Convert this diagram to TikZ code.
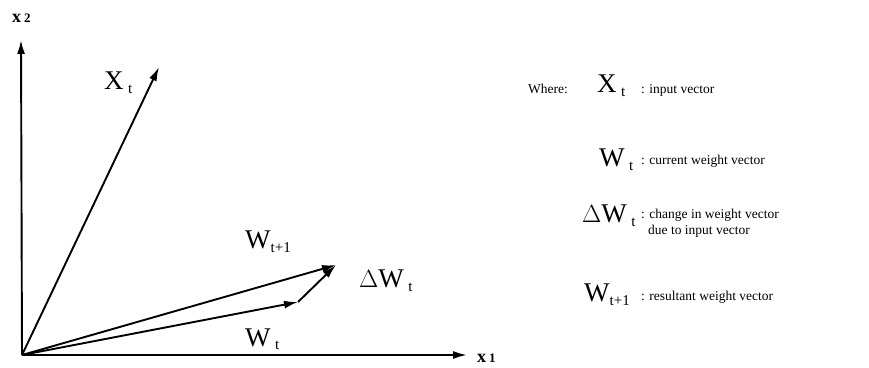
\documentclass[tikz,border=0pt]{standalone}
\usepackage{fontspec}
\setmainfont{Liberation Serif}
\usetikzlibrary{arrows.meta}
\newcommand{\bigsym}{\fontsize{27}{27}\selectfont}
\newcommand{\subsym}{\fontsize{15}{15}\selectfont}
\newcommand{\legtxt}{\fontsize{13.5}{15}\selectfont}
\begin{document}
\begin{tikzpicture}[x=1pt,y=-1pt,
  vec/.style={-{Latex[length=14pt,width=8pt]}, line width=1.9pt},
  lab/.style={inner sep=0pt, anchor=base west},
  axlab/.style={inner sep=0pt, anchor=base west, font=\fontsize{18}{18}\selectfont\bfseries}]
\useasboundingbox (0,0) rectangle (869,367);
\coordinate (O) at (22,355);
\coordinate (Ytip) at (21,40);
\coordinate (Xtip) at (467,355);
\coordinate (xt) at (159,67);
\coordinate (wt) at (298,302);
\coordinate (wt1) at (336,265);
\draw[vec] (O) -- (Ytip);
\draw[vec] (O) -- (Xtip);
\draw[vec] (O) -- (xt);
\draw[vec] (O) -- (wt);
\draw[vec] (O) -- (wt1);
\draw[vec] (wt) -- (wt1);
% axis labels
\node[axlab] (lx2) at (12,22) {x\,{\fontsize{13}{13}\selectfont 2}};
\node[axlab] (lx1) at (477,362) {x\,{\fontsize{13}{13}\selectfont 1}};
% vector labels
\node[lab] (lXt) at (104,89) {\bigsym X\,\raisebox{-4pt}{\subsym t}};
\node[lab] (lWt1) at (245,248) {\bigsym W\raisebox{-4pt}{\subsym t+1}};
\node[lab] (ldW) at (359,287) {\bigsym $\Delta$W\,\raisebox{-4pt}{\subsym t}};
\node[lab] (lWt) at (245,346) {\bigsym W\,\raisebox{-3pt}{\subsym t}};
% legend
\node[lab] (where) at (528,93) {\legtxt Where:};
\node[lab] (kX) at (597,92) {\bigsym X\,\raisebox{-4pt}{\subsym t}};
\node[lab] (dX) at (641,93) {\legtxt : input vector};
\node[lab] (kW) at (599,166) {\bigsym W\,\raisebox{-4pt}{\subsym t}};
\node[lab] (dW) at (641,164) {\legtxt : current weight vector};
\node[lab] (kdW) at (582,222) {\bigsym $\Delta$W\,\raisebox{-4pt}{\subsym t}};
\node[lab] (ddW) at (641,218) {\legtxt : change in weight vector};
\node[lab] (ddW2) at (648,234) {\legtxt due to input vector};
\node[lab] (kW1) at (584,301) {\bigsym W\raisebox{-4pt}{\subsym t+1}};
\node[lab] (dW1) at (641,300) {\legtxt : resultant weight vector};
\end{tikzpicture}
\end{document}
